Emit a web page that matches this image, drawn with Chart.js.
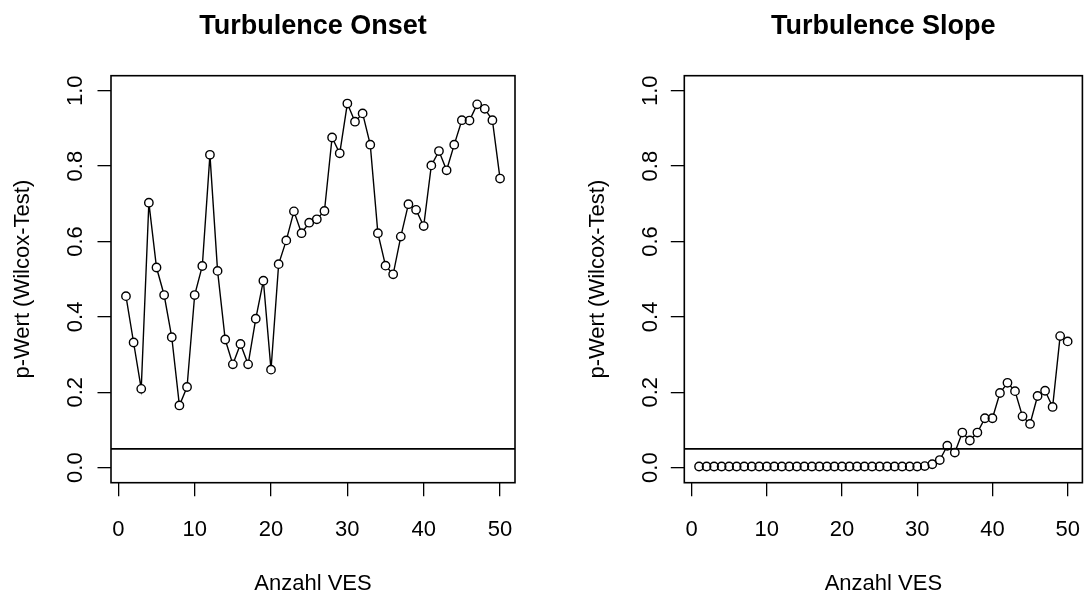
<!DOCTYPE html>
<html>
<head>
<meta charset="utf-8">
<script src="https://cdn.jsdelivr.net/npm/chart.js@4/dist/chart.umd.min.js"></script>
<style>
  html, body { margin: 0; padding: 0; background: #fff; overflow: hidden; }
  #wrap { position: relative; width: 1088px; height: 592px; }
  canvas { position: absolute; top: 0; }
</style>
</head>
<body>
<div id="wrap">
  <canvas id="onset" width="544" height="592" style="left:0"></canvas>
  <canvas id="slope" width="544" height="592" style="left:544px"></canvas>
</div>
<script>
// Number of VES (x positions)
const vesCount = [1,2,3,4,5,6,7,8,9,10,11,12,13,14,15,16,17,18,19,20,
                  21,22,23,24,25,26,27,28,29,30,31,32,33,34,35,36,37,38,39,40,
                  41,42,43,44,45,46,47,48,49,50];

// p-values of the Wilcoxon test, turbulence onset
const pOnset = [0.455,0.332,0.209,0.703,0.531,0.458,0.346,0.165,0.214,0.458,
                0.535,0.830,0.522,0.340,0.274,0.328,0.274,0.395,0.496,0.260,
                0.540,0.603,0.680,0.622,0.650,0.659,0.681,0.876,0.834,0.966,
                0.918,0.940,0.857,0.622,0.536,0.513,0.613,0.699,0.684,0.641,
                0.802,0.840,0.789,0.857,0.922,0.921,0.964,0.952,0.922,0.767];

// p-values of the Wilcoxon test, turbulence slope
const pSlope = [0.003,0.003,0.003,0.003,0.003,0.003,0.003,0.003,0.003,0.003,
                0.003,0.003,0.003,0.003,0.003,0.003,0.003,0.003,0.003,0.003,
                0.003,0.003,0.003,0.003,0.003,0.003,0.003,0.003,0.003,0.003,
                0.004,0.009,0.020,0.058,0.040,0.093,0.072,0.093,0.131,0.131,
                0.198,0.225,0.203,0.136,0.116,0.190,0.204,0.161,0.349,0.335];

const xTicks = [0, 10, 20, 30, 40, 50];
const yTicks = [0.0, 0.2, 0.4, 0.6, 0.8, 1.0];
const threshold = 0.05;
const xRange = [-0.96, 51.96];
const yRange = [-0.04, 1.04];

const FONT = '"Liberation Sans", Arial, Helvetica, sans-serif';
Chart.defaults.font.family = FONT;
Chart.defaults.color = '#000';

// Box around the plot region, rotated y tick labels and the panel heading
const framePlugin = {
  id: 'frame',
  afterDatasetsDraw(chart, args, opts) {
    const { ctx, chartArea: a, scales: { y } } = chart;
    ctx.save();
    ctx.strokeStyle = '#000';
    ctx.lineWidth = 1.6;
    ctx.strokeRect(a.left, a.top, a.right - a.left, a.bottom - a.top);

    ctx.fillStyle = '#000';
    ctx.font = '22px ' + FONT;
    ctx.textAlign = 'center';
    ctx.textBaseline = 'middle';
    y.ticks.forEach(t => {
      ctx.save();
      ctx.translate(opts.labelX, y.getPixelForValue(t.value));
      ctx.rotate(-Math.PI / 2);
      ctx.fillText(t.value.toFixed(1), 0, 0);
      ctx.restore();
    });

    ctx.font = 'bold 27px ' + FONT;
    ctx.textBaseline = 'alphabetic';
    ctx.fillText(opts.heading, (a.left + a.right) / 2, 34);
    ctx.restore();
  }
};

function makePanel(id, heading, values, cfg) {
  const pts = vesCount.map((x, i) => ({ x, y: values[i] }));
  const axisGrid = {
    display: true, drawOnChartArea: false, drawTicks: true,
    tickLength: 13.5, color: '#000', lineWidth: 1.3
  };
  return new Chart(document.getElementById(id), {
    type: 'line',
    data: {
      datasets: [
        { // open circles
          data: pts, showLine: false,
          pointRadius: 4.2, pointBorderWidth: 1.4,
          pointBorderColor: '#000', pointBackgroundColor: 'rgba(0,0,0,0)'
        },
        { // significance level
          data: [{ x: xRange[0], y: threshold }, { x: xRange[1], y: threshold }],
          borderColor: '#000', borderWidth: 1.7, pointRadius: 0
        },
        { // connecting line, broken around each point
          data: pts, borderColor: '#000', borderWidth: 1.4, tension: 0,
          pointRadius: 4.2, pointBorderWidth: 0, pointBackgroundColor: '#fff'
        }
      ]
    },
    options: {
      responsive: false,
      animation: false,
      events: [],
      layout: { padding: { top: 75.7, right: cfg.padRight, bottom: 0, left: 0 } },
      plugins: {
        legend: { display: false },
        tooltip: { enabled: false },
        frame: { heading, labelX: cfg.labelX }
      },
      scales: {
        x: {
          type: 'linear', min: xRange[0], max: xRange[1],
          afterBuildTicks: s => { s.ticks = xTicks.map(v => ({ value: v })); },
          afterFit: s => { s.height = 592 - 482.7; s.paddingLeft = 0; s.paddingRight = 0; },
          grid: axisGrid,
          border: { display: false },
          ticks: {
            color: '#000', font: { size: 22 }, padding: 21,
            minRotation: 0, maxRotation: 0, autoSkip: false,
            callback: v => String(v)
          },
          title: {
            display: true, text: 'Anzahl VES', color: '#000',
            font: { size: 22, lineHeight: 0.75 }, padding: 0
          }
        },
        y: {
          type: 'linear', min: yRange[0], max: yRange[1],
          afterBuildTicks: s => { s.ticks = yTicks.map(v => ({ value: v })); },
          afterFit: s => { s.width = cfg.yWidth; s.paddingTop = 0; s.paddingBottom = 0; },
          grid: axisGrid,
          border: { display: false },
          ticks: { display: false },
          title: {
            display: true, text: 'p-Wert (Wilcox-Test)', color: '#000',
            font: { size: 22, lineHeight: 1.2 },
            padding: { top: cfg.titlePad, bottom: 0 }
          }
        }
      }
    },
    plugins: [framePlugin]
  });
}

makePanel('onset', 'Turbulence Onset', pOnset,
  { yWidth: 111, padRight: 29, labelX: 76, titlePad: 9.4 });
makePanel('slope', 'Turbulence Slope', pSlope,
  { yWidth: 140.3, padRight: 0.7, labelX: 107, titlePad: 40.7 });
</script>
</body>
</html>
